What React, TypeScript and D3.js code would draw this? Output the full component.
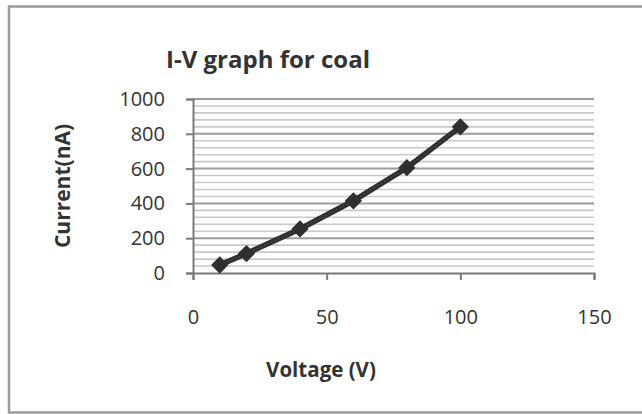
import React, { useRef, useEffect } from 'react';
import * as d3 from 'd3';

// I-V data for coal
const voltage = [10, 20, 40, 60, 80, 100];
const current = [46, 112, 253, 415, 605, 840];
const xTicks = [0, 50, 100, 150];
const yTicks = [0, 200, 400, 600, 800, 1000];
const title = 'I-V graph for coal';
const xTitle = 'Voltage (V)';
const yTitle = 'Current(nA)';

const width = 642;
const height = 414;
const font = '"Open Sans", "Liberation Sans", sans-serif';

export default function App() {
  const ref = useRef(null);

  useEffect(() => {
    const svg = d3.select(ref.current);
    svg.selectAll('*').remove();

    // outer frame
    svg
      .append('rect')
      .attr('x', 0)
      .attr('y', 0)
      .attr('width', width)
      .attr('height', height)
      .attr('fill', '#fff');
    svg
      .append('rect')
      .attr('x', 9)
      .attr('y', 6.5)
      .attr('width', 640)
      .attr('height', 406)
      .attr('fill', '#fff')
      .attr('stroke', '#9a9a9a')
      .attr('stroke-width', 2.5);

    var x = d3.scaleLinear().domain([0, 150]).range([193, 594]);
    var y = d3.scaleLinear().domain([0, 1000]).range([273, 99]);

    // minor grid every 40
    var minor = d3.range(40, 1000, 40).filter(v => v % 200 !== 0);
    svg
      .append('g')
      .selectAll('line')
      .data(minor)
      .enter()
      .append('line')
      .attr('x1', x(0))
      .attr('x2', x(150))
      .attr('y1', d => y(d))
      .attr('y2', d => y(d))
      .attr('stroke', '#c9c9c9')
      .attr('stroke-width', 1.6);
    // major grid
    svg
      .append('g')
      .selectAll('line')
      .data(yTicks.slice(1))
      .enter()
      .append('line')
      .attr('x1', x(0))
      .attr('x2', x(150))
      .attr('y1', d => y(d))
      .attr('y2', d => y(d))
      .attr('stroke', '#9c9c9c')
      .attr('stroke-width', 2);

    // y axis
    var yAxis = d3
      .axisLeft(y)
      .tickValues(yTicks)
      .tickFormat(d3.format('d'))
      .tickSize(7)
      .tickPadding(21);
    var gy = svg
      .append('g')
      .attr('transform', 'translate(' + x(0) + ',0)')
      .call(yAxis);
    gy.selectAll('line').attr('stroke', '#7a7a7a').attr('stroke-width', 2);
    gy.select('.domain').attr('stroke', '#7a7a7a').attr('stroke-width', 2);
    gy.selectAll('text')
      .attr('font-family', font)
      .attr('font-size', 20)
      .attr('fill', '#333');

    // x axis
    var xAxis = d3
      .axisBottom(x)
      .tickValues(xTicks)
      .tickSize(7)
      .tickPadding(30);
    var gx = svg
      .append('g')
      .attr('transform', 'translate(0,' + y(0) + ')')
      .call(xAxis);
    gx.selectAll('line').attr('stroke', '#7a7a7a').attr('stroke-width', 2);
    gx.select('.domain').attr('stroke', '#7a7a7a').attr('stroke-width', 2);
    gx.selectAll('text')
      .attr('font-family', font)
      .attr('font-size', 20)
      .attr('fill', '#333');

    var pts = voltage.map((v, i) => ({ x: v, y: current[i] }));
    var line = d3
      .line()
      .x(d => x(d.x))
      .y(d => y(d.y));

    svg
      .append('path')
      .datum(pts)
      .attr('d', line)
      .attr('fill', 'none')
      .attr('stroke', '#2f2f2f')
      .attr('stroke-width', 5.5);
    svg
      .append('path')
      .datum(pts)
      .attr('d', line)
      .attr('fill', 'none')
      .attr('stroke', '#555')
      .attr('stroke-width', 1)
      .attr('stroke-dasharray', '2,2');

    var diamond = d3.symbol().type(d3.symbolDiamond2).size(190);
    svg
      .append('g')
      .selectAll('path')
      .data(pts)
      .enter()
      .append('path')
      .attr('d', diamond)
      .attr('transform', d => 'translate(' + x(d.x) + ',' + y(d.y) + ')')
      .attr('fill', '#2f2f2f');

    // titles
    svg
      .append('text')
      .attr('x', 268)
      .attr('y', 68)
      .attr('text-anchor', 'middle')
      .attr('font-family', font)
      .attr('font-weight', 'bold')
      .attr('font-size', 24)
      .attr('fill', '#333')
      .text(title);
    svg
      .append('text')
      .attr('x', 321)
      .attr('y', 377)
      .attr('text-anchor', 'middle')
      .attr('font-family', font)
      .attr('font-weight', 'bold')
      .attr('font-size', 20.5)
      .attr('fill', '#333')
      .text(xTitle);
    svg
      .append('text')
      .attr('transform', 'translate(70,186) rotate(-90)')
      .attr('text-anchor', 'middle')
      .attr('font-family', font)
      .attr('font-weight', 'bold')
      .attr('font-size', 21)
      .attr('fill', '#333')
      .text(yTitle);
  }, []);

  return (
    <svg
      ref={ref}
      width={width}
      height={height}
      style={{ position: 'absolute', left: 0, top: 0 }}
    />
  );
}
